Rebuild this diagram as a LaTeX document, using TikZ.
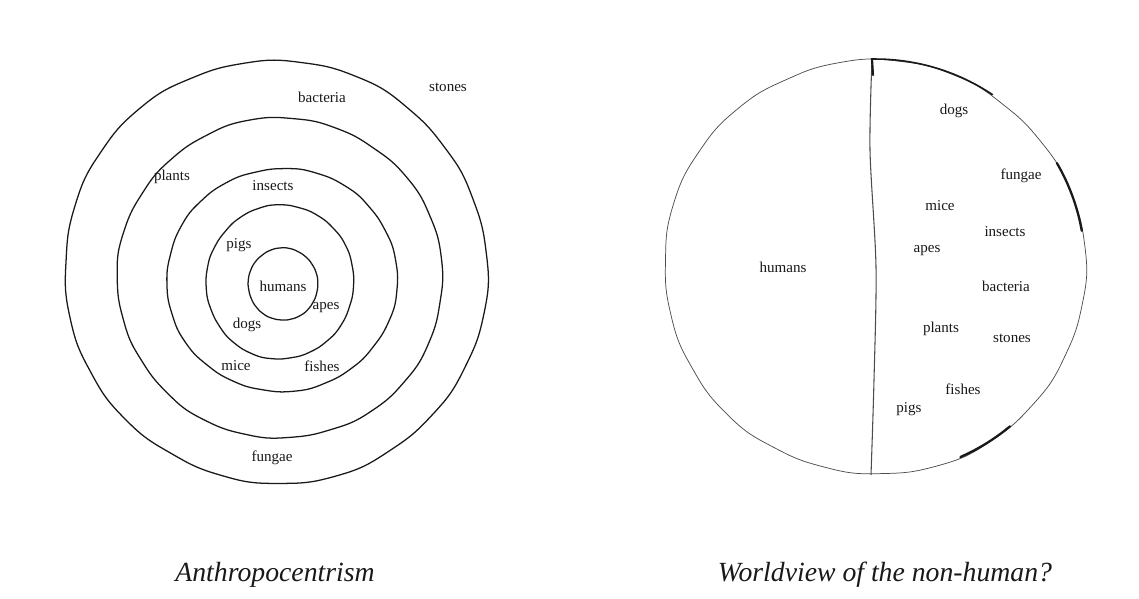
\documentclass[tikz,border=0pt]{standalone}
\usepackage{fontspec}
\setmainfont{Liberation Serif}
\usepackage{tikz}
\usetikzlibrary{positioning}

% hand-drawn looking closed curve: centre x, centre y, radius x, radius y, phase
\newcommand{\handring}[6][]{%
  \draw[#1] plot[smooth cycle, domain=0:357.5, samples=144, variable=\t]
    ({#2+#4*(1+0.005*sin(2*\t+#6)+0.003*sin(5*\t+3*#6)+0.0015*sin(11*\t+2*#6)+0.0015*sin(23*\t+#6))*cos(\t)},
     {#3+#5*(1+0.005*sin(2*\t+#6)+0.003*sin(5*\t+3*#6)+0.0015*sin(11*\t+2*#6)+0.0015*sin(23*\t+#6))*sin(\t)});}

\begin{document}
\begin{tikzpicture}[
    x=0.75pt, y=-0.75pt,
    lbl/.style={font=\fontsize{11.3}{13}\selectfont, inner sep=1pt, text=black!90},
    caption/.style={font=\fontsize{20.8}{24}\selectfont\itshape, text=black!90},
    ring/.style={line width=0.95pt, draw=black!90},
    rim/.style={line width=0.55pt, draw=black!70},
    ink/.style={line width=1.7pt, draw=black!90, line cap=round},
]
\useasboundingbox (0,0) rectangle (1139,599);

% ---------- left: concentric rings ----------
\handring[ring]{276}{272}{211}{212}{20}
\handring[ring]{280}{278}{162}{161}{75}
\handring[ring]{282}{280}{115}{112}{140}
\handring[ring]{280}{282}{74}{77}{200}
\handring[ring]{283}{284}{35}{36}{300}

\node[lbl] (lstones)   at (448,87)  {stones};
\node[lbl] (lbacteria) at (322,97)  {bacteria};
\node[lbl] (lplants)   at (172,177) {plants};
\node[lbl] (linsects)  at (273,186) {insects};
\node[lbl] (lpigs)     at (239,245) {pigs};
\node[lbl] (lhumans)   at (283,286) {humans};
\node[lbl] (lapes)     at (326,308) {apes};
\node[lbl] (ldogs)     at (247,325) {dogs};
\node[lbl] (lmice)     at (236,366) {mice};
\node[lbl] (lfishes)   at (322,366) {fishes};
\node[lbl] (lfungae)   at (272,458) {fungae};

% ---------- right: split circle ----------
\handring[rim]{875}{267}{210}{208}{40}
\draw[rim, line width=0.8pt] plot[smooth] coordinates
  {(872,59) (870,150) (876,267) (874,380) (871,475)};
\draw[ink, line width=1.6pt] (872,59) -- (873,75);

% heavier ink on the rim
\draw[ink, line width=1.2pt] plot[smooth, domain=-91:-56, samples=12, variable=\t]
  ({875+210*cos(\t)}, {267+208*sin(\t)});
\draw[ink] plot[smooth, domain=-30:-10, samples=8, variable=\t]
  ({875+210*cos(\t)}, {267+208*sin(\t)});
\draw[ink] plot[smooth, domain=50:66, samples=8, variable=\t]
  ({875+210*cos(\t)}, {267+208*sin(\t)});

\node[lbl] (rhumans)   at (783,267) {humans};
\node[lbl] (rdogs)     at (954,111) {dogs};
\node[lbl] (rfungae)   at (1021,176) {fungae};
\node[lbl] (rmice)     at (940,206) {mice};
\node[lbl] (rinsects)  at (1005,232) {insects};
\node[lbl] (rapes)     at (927,251) {apes};
\node[lbl] (rbacteria) at (1006,286) {bacteria};
\node[lbl] (rplants)   at (941,329) {plants};
\node[lbl] (rstones)   at (1012,338) {stones};
\node[lbl] (rfishes)   at (963,389) {fishes};
\node[lbl] (rpigs)     at (909,409) {pigs};

% ---------- captions ----------
\node[caption] (capleft)  at (275,575) {Anthropocentrism};
\node[caption] (capright) at (885,575) {Worldview of the non-human?};

\end{tikzpicture}
\end{document}
